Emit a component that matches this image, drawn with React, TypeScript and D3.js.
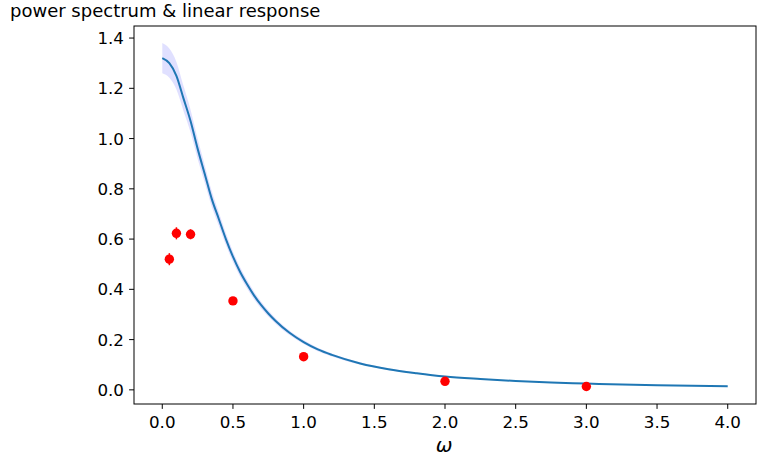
import React from "react";
import * as d3 from "d3";

const omega = [0, 0.05, 0.1, 0.15, 0.2, 0.25, 0.3, 0.35, 0.4, 0.45, 0.5, 0.55, 0.6, 0.65, 0.7, 0.75, 0.8, 0.9, 1.0, 1.1, 1.2, 1.4, 1.6, 1.8, 2.0, 2.25, 2.5, 2.75, 3.0, 3.5, 4.0];
const spectrum = [1.32, 1.30, 1.25, 1.16, 1.07, 0.96, 0.86, 0.76, 0.68, 0.60, 0.53, 0.47, 0.42, 0.375, 0.337, 0.304, 0.275, 0.227, 0.19, 0.161, 0.139, 0.105, 0.082, 0.066, 0.053, 0.043, 0.035, 0.029, 0.025, 0.018, 0.014];
const bandHalf = [0.06, 0.058, 0.055, 0.05, 0.045, 0.04, 0.035, 0.031, 0.027, 0.024, 0.021, 0.019, 0.017, 0.0155, 0.014, 0.0125, 0.011, 0.009, 0.008, 0.007, 0.006, 0.0045, 0.0035, 0.003, 0.0025, 0.002, 0.0017, 0.0014, 0.0012, 0.0009, 0.0007];

const respOmega = [0.05, 0.1, 0.2, 0.5, 1.0, 2.0, 3.0];
const respValue = [0.52, 0.623, 0.619, 0.354, 0.132, 0.034, 0.0135];
const respErr = [0.024, 0.024, 0.02, 0.01, 0.005, 0.003, 0.002];

const xTicks = [0, 0.5, 1.0, 1.5, 2.0, 2.5, 3.0, 3.5, 4.0];
const yTicks = [0, 0.2, 0.4, 0.6, 0.8, 1.0, 1.2, 1.4];

const W = 764, H = 467;
const left = 134, right = 756, top = 26, bottom = 404;

export default function App() {
  const x = d3.scaleLinear().domain([-0.2, 4.2]).range([left, right]);
  const y = d3.scaleLinear().domain([-0.0563, 1.448]).range([bottom, top]);
  const pts = omega.map((w, i) => ({ w, v: spectrum[i], h: bandHalf[i] }));
  const line = d3.line<any>().x(d => x(d.w)).y(d => y(d.v)).curve(d3.curveMonotoneX);
  const area = d3.area<any>().x(d => x(d.w)).y0(d => y(d.v - d.h)).y1(d => y(d.v + d.h)).curve(d3.curveMonotoneX);
  const font = "DejaVu Sans, sans-serif";
  return (
    <svg width={W} height={H} style={{ position: "absolute", left: 0, top: 0 }} fontFamily={font}>
      <rect width={W} height={H} fill="#fff" />
      <text x={10} y={16.5} fontSize={18} fill="#000">power spectrum &amp; linear response</text>
      <path d={area(pts) || ""} fill="rgba(0,0,255,0.12)" stroke="none" />
      <path d={line(pts) || ""} fill="none" stroke="#1f77b4" strokeWidth={2} />
      {respOmega.map((w, i) => (
        <g key={i}>
          <line x1={x(w)} x2={x(w)} y1={y(respValue[i] - respErr[i])} y2={y(respValue[i] + respErr[i])} stroke="red" strokeWidth={1.5} />
          <circle cx={x(w)} cy={y(respValue[i])} r={4.7} fill="red" />
        </g>
      ))}
      <rect x={left} y={top} width={right - left} height={bottom - top} fill="none" stroke="#000" strokeWidth={1} />
      {xTicks.map(t => (
        <g key={t}>
          <line x1={x(t)} x2={x(t)} y1={bottom} y2={bottom + 4.9} stroke="#000" />
          <text x={x(t)} y={428} fontSize={16.7} textAnchor="middle">{t.toFixed(1)}</text>
        </g>
      ))}
      {yTicks.map(t => (
        <g key={t}>
          <line x1={left - 4.9} x2={left} y1={y(t)} y2={y(t)} stroke="#000" />
          <text x={124} y={y(t)} dy="0.36em" fontSize={16.7} textAnchor="end">{t.toFixed(1)}</text>
        </g>
      ))}
      <text x={(left + right) / 2 - 1} y={452} fontSize={20} fontStyle="italic" textAnchor="middle">ω</text>
    </svg>
  );
}
